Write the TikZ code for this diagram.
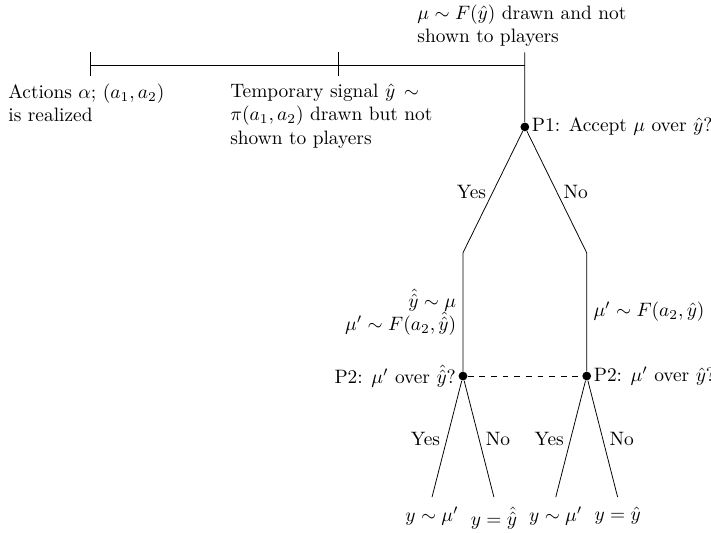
\documentclass[tikz,border=0pt]{standalone}
\usepackage{amsmath}
\usetikzlibrary{positioning}

\begin{document}
\begin{tikzpicture}[scale=0.967,
      decision/.style={circle, fill, inner sep=1.6pt},
      note/.style={align=left, inner sep=0pt, anchor=north west},
      leaf/.style={below, inner sep=5pt},
      info/.style={dashed}]
    \useasboundingbox (0,0) rectangle (13.33,9.99);
    % timeline
    \coordinate (t0) at (1.69,8.77);
    \coordinate (t1) at (6.34,8.77);
    \coordinate (t2) at (9.84,8.77);
    \draw (t0) -- (t2);
    \draw ([yshift=2.4mm]t0) -- ([yshift=-2mm]t0);
    \draw ([yshift=2.4mm]t1) -- ([yshift=-2mm]t1);
    \node[note] (act) at (0.15,8.42) {Actions $\alpha$; $(a_1,a_2)$\\is realized};
    \node[note] (sig) at (4.31,8.42) {Temporary signal $\hat{y}\,\sim$\\
      $\pi(a_1,a_2)$ drawn but not\\shown to players};
    \node[note] (draw) at (7.82,9.90) {$\mu\sim F(\hat{y})$ drawn and not\\shown to players};
    % first decision
    \node[decision] (p1) at (9.84,7.61) {};
    \node[right=0pt of p1, inner sep=1pt] {P1: Accept $\mu$ over $\hat{y}$?};
    \draw ([yshift=2.4mm]t2) -- (p1);
    \coordinate (yes1) at (8.68,5.25);
    \coordinate (no1) at (11.0,5.25);
    \draw (p1) -- node[midway, left] {Yes} (yes1);
    \draw (p1) -- node[midway, right] {No} (no1);
    % second decision
    \node[decision] (p2a) at (8.68,2.94) {};
    \node[decision] (p2b) at (11.0,2.94) {};
    \draw (yes1) -- node[midway, left, align=right]
      {$\hat{\hat{y}}\sim\mu$\\$\mu'\sim F(a_2,\hat{\hat{y}})$} (p2a);
    \draw (no1) -- node[midway, right] {$\mu'\sim F(a_2,\hat{y})$} (p2b);
    \draw[info] (p2a) -- (p2b);
    \node[left=0pt of p2a, inner sep=1pt] {P2: $\mu'$ over $\hat{\hat{y}}$?};
    \node[right=0pt of p2b, inner sep=1pt] {P2: $\mu'$ over $\hat{y}$?};
    % outcomes
    \coordinate (ya) at (8.10,0.67);
    \coordinate (na) at (9.26,0.67);
    \coordinate (yb) at (10.42,0.67);
    \coordinate (nb) at (11.58,0.67);
    \draw (p2a) -- node[midway, left] {Yes} (ya);
    \draw (p2a) -- node[midway, right] {No} (na);
    \draw (p2b) -- node[midway, left] {Yes} (yb);
    \draw (p2b) -- node[midway, right] {No} (nb);
    \node[leaf] (oa) at (ya) {$y\sim\mu'$};
    \node[leaf] (ob) at (na) {$y=\hat{\hat{y}}$};
    \node[leaf] (oc) at (yb) {$y\sim\mu'$};
    \node[leaf] (od) at (nb) {$y=\hat{y}$};
  \end{tikzpicture}
\end{document}
